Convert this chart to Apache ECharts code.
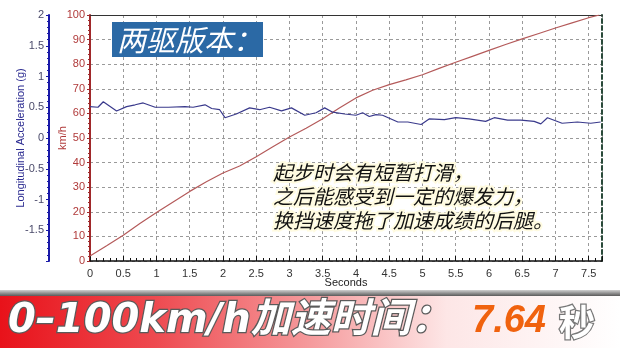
<!DOCTYPE html>
<html>
<head>
<meta charset="utf-8">
<script src="https://cdn.jsdelivr.net/npm/echarts@6/dist/echarts.min.js"></script>
<style>
html,body{margin:0;padding:0;background:#fff;}
#chart{width:620px;height:348px;}
</style>
</head>
<body>
<div id="chart"></div>
<script>
// ---- data ----
const speedTime = [0,0.25,0.5,0.75,1.0,1.25,1.5,1.75,2.0,2.25,2.5,2.75,3.0,3.25,3.5,3.75,4.0,4.25,4.5,4.75,5.0,5.25,5.5,5.75,6.0,6.25,6.5,6.75,7.0,7.25,7.5,7.66];
const speedKmh  = [2,6.2,10.5,15.2,19.7,24,28.3,32.2,35.8,38.6,42.4,46.4,50.4,54,57.8,62.2,66.3,69.4,71.7,73.6,75.7,78.3,80.8,83.2,85.6,88,90.3,92.5,94.7,96.8,98.9,100];
const accTime = [0,0.12,0.2,0.4,0.55,0.68,0.8,0.98,1.18,1.43,1.55,1.73,1.83,1.95,2.03,2.2,2.4,2.55,2.7,2.88,3.03,3.23,3.4,3.53,3.65,3.83,4.0,4.1,4.2,4.3,4.4,4.63,4.78,4.98,5.1,5.33,5.5,5.7,5.95,6.08,6.28,6.48,6.68,6.78,6.88,7.1,7.33,7.53,7.68];
const accG    = [0.51,0.50,0.59,0.44,0.51,0.54,0.57,0.50,0.50,0.51,0.50,0.54,0.48,0.46,0.33,0.39,0.49,0.46,0.50,0.44,0.49,0.37,0.41,0.49,0.42,0.39,0.37,0.41,0.35,0.38,0.37,0.26,0.26,0.22,0.31,0.30,0.33,0.31,0.27,0.33,0.29,0.29,0.27,0.23,0.33,0.24,0.26,0.24,0.26];
const xTicks = ['0','0.5','1','1.5','2','2.5','3','3.5','4','4.5','5','5.5','6','6.5','7','7.5'];
const titleText = '两驱版本：';
const noteLines = ['起步时会有短暂打滑，','之后能感受到一定的爆发力，','换挡速度拖了加速成绩的后腿。'];
const bannerLabel = '0–100km/h加速时间：';
const bannerValue = '7.64';
const bannerUnit = '秒';

const chart = echarts.init(document.getElementById('chart'), null, {renderer:'canvas'});
const speedData = speedTime.map((t,i)=>[t, speedKmh[i]]);
const accData = accTime.map((t,i)=>[t, accG[i]]);
const lab = {fontFamily:'Liberation Sans, Arial, sans-serif', fontSize:11};

const option = {
  backgroundColor:'#ffffff',
  animation:false,
  grid:{left:90, right:18, top:15, bottom:87, containLabel:false},
  xAxis:[{
    type:'value', min:0, max:7.7, interval:0.5,
    name:'Seconds', nameLocation:'middle', nameGap:16, nameMoveOverlap:false,
    nameTextStyle:Object.assign({color:'#222'},lab),
    axisLine:{show:true, onZero:false, lineStyle:{color:'#111', width:1.5}},
    axisTick:{show:true, inside:true, length:5, lineStyle:{color:'#111'}},
    minorTick:{show:true, splitNumber:5, length:3, lineStyle:{color:'#111'}},
    axisLabel:Object.assign({color:'#333', margin:7, formatter:function(v){
      const s = String(Math.round(v*10)/10);
      return xTicks.indexOf(s)>=0 ? s : '';
    }},lab),
    splitLine:{show:true, lineStyle:{color:'#9a9a9a', type:[3,3], width:1}}
  },{
    type:'value', min:0, max:7.7, position:'top',
    axisLine:{show:true, onZero:false, lineStyle:{color:'#333', width:1}},
    axisTick:{show:false}, axisLabel:{show:false}, splitLine:{show:false}
  }],
  yAxis:[{
    type:'value', min:0, max:100, interval:10, position:'left',
    name:'km/h', nameLocation:'middle', nameGap:22, nameRotate:90, nameMoveOverlap:false,
    nameTextStyle:Object.assign({color:'#b03a3a'},lab),
    axisLine:{show:true, onZero:false, lineStyle:{color:'#a0282a', width:2}},
    axisTick:{show:true, length:3, lineStyle:{color:'#a0282a'}},
    minorTick:{show:true, splitNumber:5, length:2, lineStyle:{color:'#a0282a'}},
    axisLabel:Object.assign({color:'#b03a3a', margin:5},lab),
    splitLine:{show:true, lineStyle:{color:'#9a9a9a', type:[3,3], width:1}}
  },{
    type:'value', min:-2, max:2, interval:0.5, position:'left', offset:41,
    name:'Longitudinal Acceleration (g)', nameLocation:'middle', nameGap:23, nameRotate:90, nameMoveOverlap:false,
    nameTextStyle:Object.assign({color:'#2a2a90'},lab),
    axisLine:{show:true, onZero:false, lineStyle:{color:'#1a1aa8', width:2}},
    axisTick:{show:true, length:3, lineStyle:{color:'#1a1aa8'}},
    minorTick:{show:true, splitNumber:5, length:2, lineStyle:{color:'#1a1aa8'}},
    axisLabel:Object.assign({color:'#4a4a6a', margin:5, showMinLabel:false},lab),
    splitLine:{show:false}
  },{
    type:'value', min:0, max:100, position:'right',
    axisLine:{show:true, onZero:false, lineStyle:{color:'#2a4a3a', width:2, type:[4,3]}},
    axisTick:{show:false}, axisLabel:{show:false}, splitLine:{show:false}
  }],
  series:[{
    type:'line', name:'speed', xAxisIndex:0, yAxisIndex:0, data:speedData,
    showSymbol:false, smooth:false,
    lineStyle:{color:'#b45a5a', width:1.2}, z:3
  },{
    type:'line', name:'acc', xAxisIndex:0, yAxisIndex:1, data:accData,
    showSymbol:false, smooth:false,
    lineStyle:{color:'#3a3a8c', width:1.2}, z:3
  }],
  graphic:[
    {type:'rect', shape:{x:112, y:22, width:151, height:35}, style:{fill:'#2b69a5'}, z:10},
    {type:'text', x:117, y:39.5, style:{text:titleText, fill:'#ffffff', font:'italic 29px "Noto Sans CJK SC", sans-serif', textVerticalAlign:'middle'}, z:11},
    {type:'text', x:273, y:172, style:{text:noteLines[0], fill:'#111', font:'italic 20px "Noto Sans CJK SC", sans-serif', textVerticalAlign:'middle', stroke:'#fffbe0', lineWidth:4}, z:11},
    {type:'text', x:273, y:196, style:{text:noteLines[1], fill:'#111', font:'italic 20px "Noto Sans CJK SC", sans-serif', textVerticalAlign:'middle', stroke:'#fffbe0', lineWidth:4}, z:11},
    {type:'text', x:273, y:220, style:{text:noteLines[2], fill:'#111', font:'italic 20px "Noto Sans CJK SC", sans-serif', textVerticalAlign:'middle', stroke:'#fffbe0', lineWidth:4}, z:11},
    {type:'rect', shape:{x:0, y:290, width:620, height:6}, style:{fill:{type:'linear', x:0, y:0, x2:0, y2:1, colorStops:[{offset:0,color:'#d0d0d0'},{offset:1,color:'#5a5a5a'}]}}, z:10},
    {type:'rect', shape:{x:0, y:296, width:620, height:52}, style:{fill:{type:'linear', x:0, y:0, x2:1, y2:0, colorStops:[{offset:0,color:'#e8121a'},{offset:0.25,color:'#ee4a50'},{offset:0.5,color:'#f59a9c'},{offset:0.72,color:'#fde6e6'},{offset:1,color:'#ffffff'}]}}, z:10},
    {type:'text', x:8, y:322, style:{text:bannerLabel, fill:'#ffffff', font:'italic bold 40px "DejaVu Sans", "Noto Sans CJK SC", sans-serif', textVerticalAlign:'middle', stroke:'#5a5a5a', lineWidth:2.5, shadowColor:'rgba(0,0,0,0.5)', shadowBlur:2, shadowOffsetX:1, shadowOffsetY:1}, z:11},
    {type:'text', x:472, y:322, style:{text:bannerValue, fill:'#f0620e', font:'italic bold 38px "Liberation Sans", Arial, sans-serif', textVerticalAlign:'middle'}, z:11},
    {type:'text', x:559, y:322, style:{text:bannerUnit, fill:'#ffffff', font:'bold 36px "Noto Sans CJK SC", sans-serif', textVerticalAlign:'middle', stroke:'#777', lineWidth:2.5}, z:11}
  ]
};
chart.setOption(option);
</script>
</body>
</html>
